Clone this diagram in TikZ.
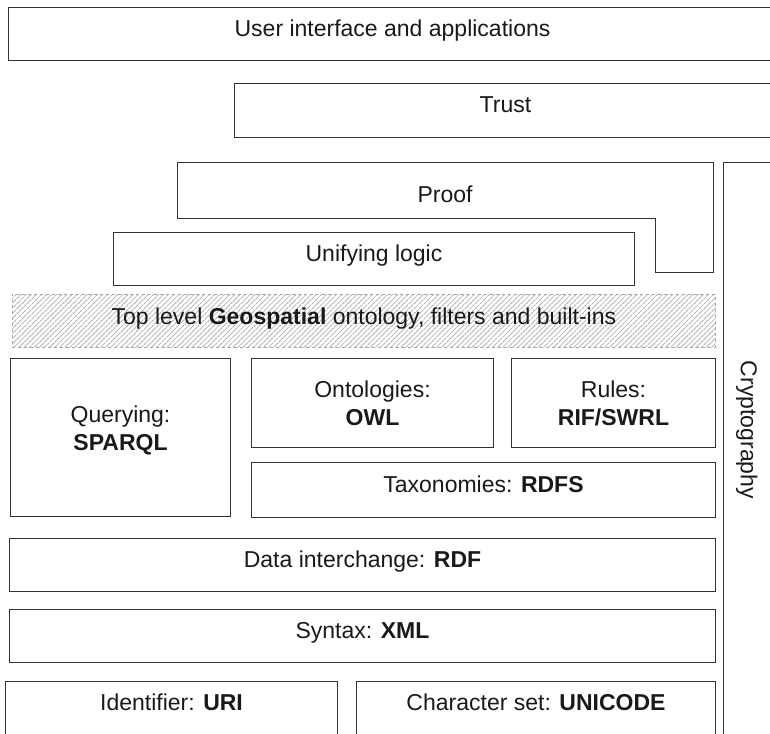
\documentclass[tikz,border=0pt]{standalone}
\usepackage{fontspec}
\setmainfont{Liberation Sans}
\usetikzlibrary{patterns, patterns.meta}

\begin{document}
\begin{tikzpicture}[x=1pt, y=-1pt,
    layer/.style={draw=black!80, line width=1pt, rectangle, inner sep=0pt, anchor=north west, align=center, text=black!90, font=\fontsize{23}{28}\selectfont},
    oneline/.style={text height=0.75em, text depth=0.3em},
    plain/.style={inner sep=0pt, text=black!90, font=\fontsize{23}{28}\selectfont, oneline}]

    \useasboundingbox (0,0) rectangle (770,733);
    \clip (0,0) rectangle (770,733);

    % upper layers
    \node (ui) [layer, oneline, minimum width=768pt, minimum height=53pt] at (8,7) {User interface and applications};
    \node (trust) [layer, oneline, minimum width=542pt, minimum height=54pt] at (234,83) {Trust};

    \draw [draw=black!80, line width=1pt] (177,162) -- (713,162) -- (713,272) -- (655,272) -- (655,218) -- (177,218) -- cycle;
    \node (proof) [plain] at (445,200) {Proof};

    \node (logic) [layer, oneline, minimum width=521pt, minimum height=53pt] at (113,232) {Unifying logic};

    \node (geo) [layer, oneline, text depth=0pt, draw=black!35, dashed, pattern={Lines[angle=45, distance=3.6pt, line width=0.8pt]}, pattern color=black!32, minimum width=703pt, minimum height=53pt] at (12,294) {Top level \textbf{Geospatial} ontology, filters and built-ins};

    % cryptography column
    \node (crypto) [layer, minimum width=50pt, minimum height=580pt] at (723,162) {};
    \node (cryptotext) [plain, rotate=-90] at (743,430) {Cryptography};

    % middle layers
    \node (query) [layer, minimum width=220pt, minimum height=158pt] at (10,358) {Querying:\\\textbf{SPARQL}\\[-10pt]~};
    \node (owl) [layer, minimum width=242pt, minimum height=89pt] at (251,358) {Ontologies:\\\textbf{OWL}};
    \node (rules) [layer, minimum width=204pt, minimum height=89pt] at (511,358) {Rules:\\\textbf{RIF/SWRL}};
    \node (rdfs) [layer, oneline, minimum width=464pt, minimum height=55pt] at (251,462) {Taxonomies: \textbf{RDFS}};

    % lower layers
    \node (rdf) [layer, oneline, minimum width=706pt, minimum height=53pt] at (9,538) {Data interchange: \textbf{RDF}};
    \node (xml) [layer, oneline, minimum width=706pt, minimum height=53pt] at (9,609) {Syntax: \textbf{XML}};
    \node (uri) [layer, oneline, minimum width=332pt, minimum height=53pt] at (5,681) {Identifier: \textbf{URI}};
    \node (unicode) [layer, oneline, minimum width=359pt, minimum height=53pt] at (356,681) {Character set: \textbf{UNICODE}};
\end{tikzpicture}
\end{document}
